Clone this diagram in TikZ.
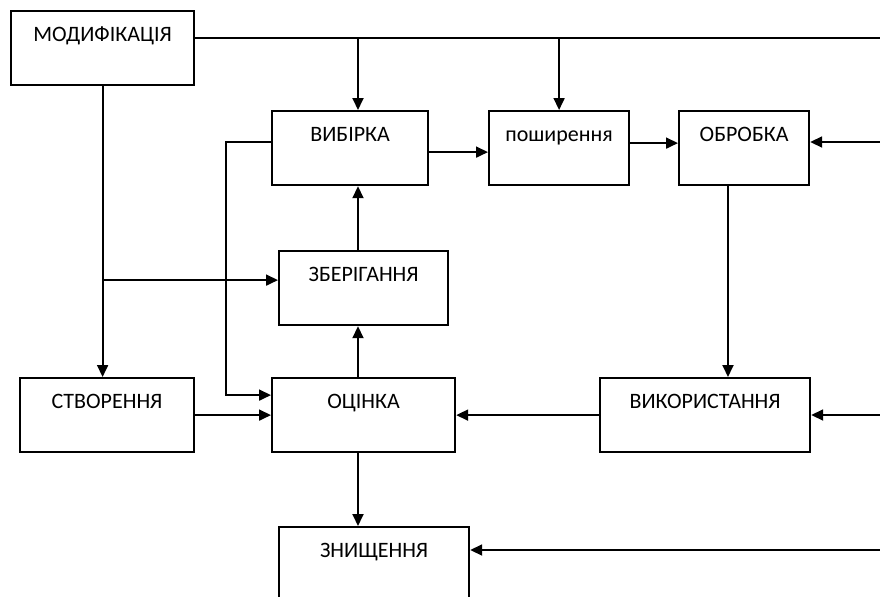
\documentclass[tikz,border=0pt]{standalone}
\usepackage{fontspec}
\setmainfont{Carlito}
\usetikzlibrary{positioning,arrows.meta,calc}

\begin{document}
\begin{tikzpicture}[
  x=0.5pt,y=-0.5pt,
  font=\fontsize{11}{13}\selectfont,
  blk/.style={draw,line width=1.1pt,anchor=north west,inner xsep=0pt,inner ysep=0pt,
              text height=15pt,text depth=22pt},
  ar/.style={-{Triangle[length=6pt,width=5.5pt]},line width=0.9pt},
  ln/.style={line width=0.9pt},
]
\useasboundingbox (0,0) rectangle (880,596);
% stages
\node[blk,minimum width=91.5pt] (mod) at (10,10)   {МОДИФІКАЦІЯ};
\node[blk,minimum width=78pt]   (vyb) at (271,110) {ВИБІРКА};
\node[blk,minimum width=70pt]   (pos) at (488,110) {поширення};
\node[blk,minimum width=65pt]   (obr) at (678,110) {ОБРОБКА};
\node[blk,minimum width=84.5pt] (zb)  at (278,250) {ЗБЕРІГАННЯ};
\node[blk,minimum width=87pt]   (stv) at (19,377)  {СТВОРЕННЯ};
\node[blk,minimum width=91.5pt] (ots) at (271,377) {ОЦІНКА};
\node[blk,minimum width=105pt]  (vyk) at (599,377) {ВИКОРИСТАННЯ};
\node[blk,minimum width=95pt]   (zn)  at (278,526) {ЗНИЩЕННЯ};
% free ends at the right edge
\coordinate (rt) at (880,0);
\coordinate (r1) at (880,142);
\coordinate (r2) at (880,415);
\coordinate (r3) at (880,550);
\coordinate (modout) at ([yshift=5pt]mod.east);
\coordinate (d1) at (358,0);
\coordinate (d2) at (728,0);
\coordinate (zbin) at ([yshift=4pt]zb.west);
% top bus
\draw[ln] (modout) -- (modout -| rt);
\draw[ar] (modout -| d1) -- (vyb.north -| d1);
\draw[ar] (modout -| pos.north) -- (pos.north);
% upper row
\draw[ar] ([yshift=-2pt]vyb.east) -- ([yshift=-2pt]pos.west);
\draw[ar] ([yshift=2.5pt]pos.east) -- ([yshift=2.5pt]obr.west);
\draw[ar] (r1) -- (r1 -| obr.east);
\draw[ar] (obr.south -| d2) -- (vyk.north -| d2);
% middle column
\draw[ar] (ots.north -| d1) -- (zb.south -| d1);
\draw[ar] (zb.north -| d1) -- (vyb.south -| d1);
\draw[ar] (ots.south -| d1) -- (zn.north -| d1);
\draw[ar] ([yshift=3pt]vyb.west) -- ++(-45,0) |- ([yshift=10pt]ots.west);
% left side
\draw[ar] (mod.south) -- (mod.south |- stv.north);
\draw[ar] (zbin -| mod.south) -- (zbin);
\draw[ar] (stv.east) -- (stv.east -| ots.west);
% lower row
\draw[ar] (r2) -- (r2 -| vyk.east);
\draw[ar] (vyk.west) -- (vyk.west -| ots.east);
\draw[ar] (r3) -- (r3 -| zn.east);
\end{tikzpicture}
\end{document}
